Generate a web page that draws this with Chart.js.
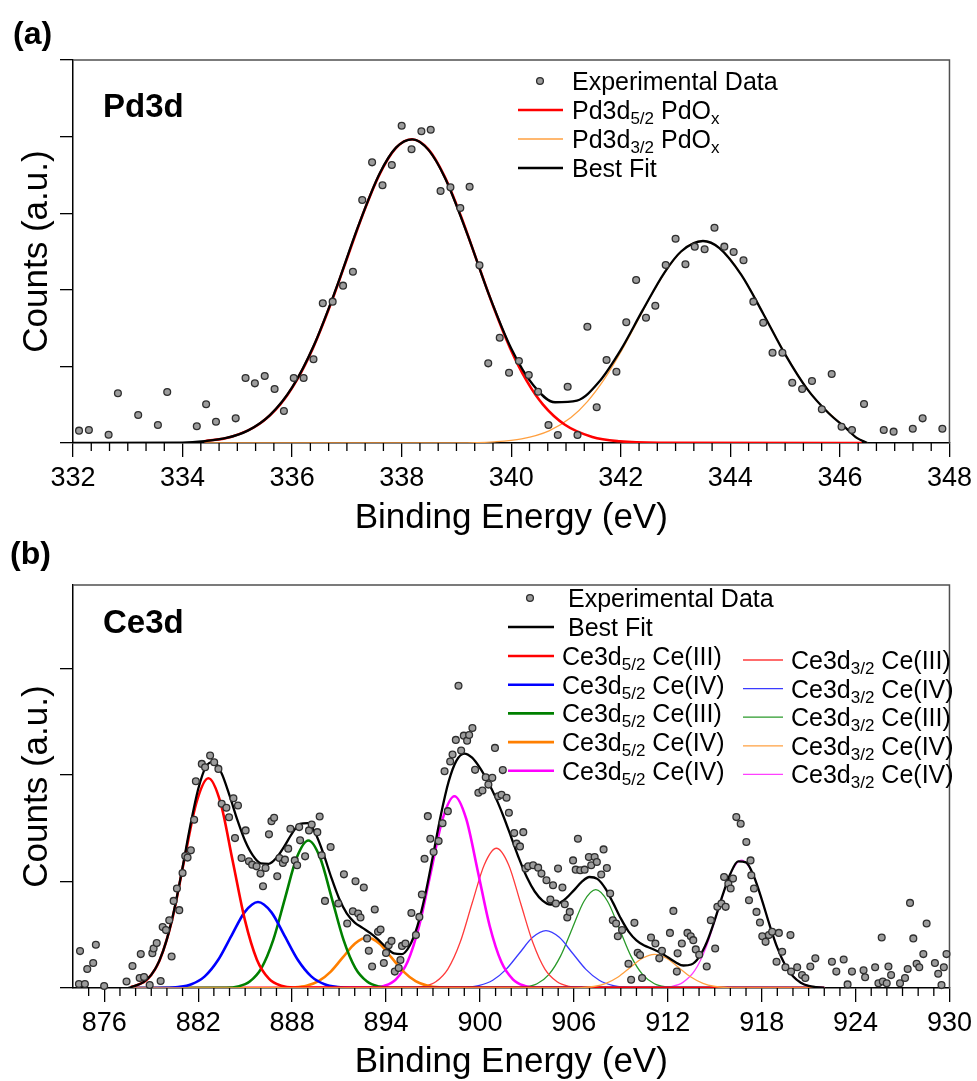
<!DOCTYPE html>
<html>
<head>
<meta charset="utf-8">
<script src="https://cdn.jsdelivr.net/npm/chart.js@4.4.1/dist/chart.umd.min.js"></script>
<style>
  body { margin: 0; background: #fff; }
  #wrap { position: relative; width: 977px; height: 1081px; }
  canvas { position: absolute; left: 0; }
  #pdChart { top: 0; }
  #ceChart { top: 540px; }
</style>
</head>
<body>
<div id="wrap">
  <canvas id="pdChart" width="977" height="540"></canvas>
  <canvas id="ceChart" width="977" height="541"></canvas>
</div>
<script>
// ---------- (a) Pd3d ----------
const pdTag = "(a)";
const pdName = "Pd3d";
const pdXTicks = [332, 334, 336, 338, 340, 342, 344, 346, 348];
const pdYTicks = [0, 1, 2, 3, 4, 5];

const pdEnergy = [
  332.11, 332.29, 332.65, 332.82, 333.19, 333.55, 333.72, 334.26, 334.43, 334.61,
  334.97, 335.15, 335.32, 335.50, 335.68, 335.85, 336.03, 336.21, 336.39, 336.56,
  336.74, 336.93, 337.11, 337.28, 337.46, 337.65, 337.82, 338.00, 338.18, 338.36,
  338.53, 338.71, 338.89, 339.07, 339.24, 339.42, 339.58, 339.79, 339.96, 340.14,
  340.32, 340.49, 340.68, 340.85, 341.03, 341.21, 341.39, 341.56, 341.74, 341.92,
  342.10, 342.28, 342.46, 342.63, 342.82, 343.00, 343.18, 343.35, 343.53, 343.71,
  343.89, 344.06, 344.24, 344.42, 344.60, 344.77, 344.95, 345.13, 345.31, 345.49,
  345.67, 345.85, 346.03, 346.22, 346.44, 346.80, 346.98, 347.33, 347.51, 347.87
];
const pdCounts = [
  0.161, 0.170, 0.108, 0.649, 0.366, 0.235, 0.666, 0.218, 0.505, 0.278,
  0.322, 0.849, 0.779, 0.875, 0.705, 0.418, 0.849, 0.849, 1.093, 1.824,
  1.845, 2.054, 2.236, 3.172, 3.664, 3.364, 3.629, 4.142, 3.834, 4.069,
  4.090, 3.290, 3.338, 3.068, 3.346, 2.320, 1.040, 1.375, 0.918, 1.070,
  0.888, 0.670, 0.235, 0.104, 0.735, 0.104, 1.518, 0.466, 1.084, 0.931,
  1.576, 2.128, 1.636, 1.792, 2.324, 2.667, 2.333, 2.563, 2.529, 2.811,
  2.563, 2.493, 2.385, 1.845, 1.570, 1.179, 1.179, 0.787, 0.705, 0.809,
  0.440, 0.901, 0.213, 0.170, 0.509, 0.170, 0.148, 0.187, 0.322, 0.187
];

const pdFitE = [332.0, 334.0, 334.4, 334.8, 335.2, 335.6, 336.0, 336.4, 336.8, 337.2,
  337.6, 337.9, 338.2, 338.5, 338.8, 339.2, 339.6, 340.0, 340.4, 340.8,
  341.2, 341.6, 342.0, 342.4, 342.8, 343.1, 343.5, 343.8, 344.2, 344.6,
  345.0, 345.4, 345.8, 346.1, 346.3, 346.5];
const pdFit = [0, 0.005, 0.024, 0.066, 0.165, 0.367, 0.725, 1.279, 2.011, 2.818,
  3.521, 3.859, 3.965, 3.817, 3.446, 2.723, 1.924, 1.233, 0.756, 0.532,
  0.553, 0.795, 1.216, 1.734, 2.228, 2.500, 2.637, 2.545, 2.195, 1.688,
  1.157, 0.707, 0.385, 0.2, 0.07, 0];

const pd52E = [334.4, 334.88, 335.38, 335.78, 336.08, 336.38, 336.68, 336.98, 337.28, 337.58,
  337.88, 338.18, 338.48, 338.78, 339.08, 339.38, 339.68, 339.98, 340.28, 340.58,
  340.98, 341.48, 341.98, 342.68, 346.4];
const pd52 = [0.024, 0.079, 0.238, 0.501, 0.814, 1.239, 1.768, 2.364, 2.964, 3.484,
  3.839, 3.965, 3.839, 3.484, 2.964, 2.364, 1.768, 1.239, 0.814, 0.501,
  0.238, 0.079, 0.022, 0.003, 0];

const pd32E = [334.4, 338.99, 339.69, 340.19, 340.69, 341.09, 341.39, 341.69, 341.99, 342.29,
  342.59, 342.89, 343.19, 343.49, 343.79, 344.09, 344.39, 344.69, 344.99, 345.29,
  345.59, 345.89, 346.1, 346.3, 346.5];
const pd32 = [0, 0.002, 0.015, 0.053, 0.158, 0.333, 0.541, 0.824, 1.176, 1.572,
  1.971, 2.317, 2.553, 2.637, 2.553, 2.317, 1.971, 1.572, 1.176, 0.824,
  0.541, 0.333, 0.2, 0.07, 0];

const pdLabels = ["Experimental Data", "Best Fit", "Pd3d_{5/2} PdO_{x}", "Pd3d_{3/2} PdO_{x}"];

// ---------- (b) Ce3d ----------
const ceTag = "(b)";
const ceName = "Ce3d";
const ceXTicks = [876, 882, 888, 894, 900, 906, 912, 918, 924, 930];
const ceYTicks = [0, 1, 2, 3];

const ceEnergy = [
  874.38, 874.45, 874.76, 874.91, 875.29, 875.46, 875.99, 877.42, 877.80, 878.26,
  878.33, 878.54, 878.90, 879.07, 879.15, 879.35, 879.60, 879.73, 879.94, 880.15,
  880.30, 880.43, 880.64, 880.79, 881.00, 881.17, 881.32, 881.53, 881.74, 881.85,
  882.23, 882.44, 882.76, 883.02, 883.29, 883.50, 883.80, 883.97, 884.25, 884.35,
  884.54, 884.77, 885.03, 885.24, 885.45, 885.73, 885.98, 886.14, 886.30, 886.52,
  886.68, 886.85, 887.05, 887.19, 887.41, 887.54, 887.75, 887.89, 888.17, 888.32,
  888.45, 888.51, 888.83, 889.08, 889.25, 889.61, 889.76, 889.89, 890.10, 890.46,
  890.95, 891.31, 891.52, 891.88, 892.05, 892.22, 892.37, 892.58, 892.79, 892.90,
  893.11, 893.28, 893.49, 893.65, 893.86, 894.00, 894.17, 894.35, 894.56, 894.81,
  894.92, 895.02, 895.24, 895.62, 895.91, 896.13, 896.29, 896.46, 896.67, 896.83,
  897.04, 897.36, 897.61, 897.74, 897.95, 898.10, 898.25, 898.46, 898.63, 898.80,
  898.97, 899.18, 899.31, 899.52, 899.69, 899.90, 900.16, 900.37, 900.54, 900.79,
  900.96, 901.17, 901.38, 901.46, 901.70, 901.85, 902.19, 902.34, 902.56, 902.77,
  902.91, 903.08, 903.40, 903.72, 903.93, 904.25, 904.50, 904.67, 904.85, 904.99,
  905.27, 905.42, 905.58, 905.74, 905.95, 906.12, 906.26, 906.41, 906.69, 906.96,
  907.11, 907.33, 907.47, 907.75, 907.90, 908.11, 908.32, 908.49, 908.70, 908.81,
  909.08, 909.49, 909.66, 909.87, 910.08, 910.23, 910.36, 910.93, 911.21, 911.46,
  911.63, 912.14, 912.36, 912.58, 912.63, 912.90, 913.26, 913.47, 913.63, 913.79,
  914.01, 914.49, 914.75, 915.03, 915.17, 915.43, 915.60, 915.70, 915.87, 916.02,
  916.17, 916.38, 916.66, 917.02, 917.19, 917.29, 917.34, 917.51, 917.67, 917.89,
  918.04, 918.25, 918.46, 918.67, 918.95, 919.10, 919.31, 919.52, 919.84, 919.88,
  920.27, 920.58, 920.79, 921.11, 921.43, 922.49, 922.77, 923.24, 923.49, 923.77,
  924.51, 924.61, 925.25, 925.46, 925.67, 925.74, 925.99, 926.10, 926.27, 926.84,
  927.16, 927.33, 927.48, 927.69, 927.90, 928.07, 928.33, 928.54, 929.07, 929.28,
  929.49, 929.64, 929.81
];
const ceCounts = [
  0.037, 0.346, 0.037, 0.178, 0.234, 0.405, 0.019, 0.061, 0.206, 0.094,
  0.318, 0.103, 0.028, 0.327, 0.371, 0.421, 0.065, 0.571, 0.543, 0.636,
  0.295, 0.817, 0.933, 0.730, 1.079, 1.238, 1.223, 1.291, 1.578, 1.939,
  2.102, 2.070, 2.180, 2.117, 2.055, 1.728, 1.690, 1.602, 1.780, 1.406,
  1.712, 1.219, 1.478, 1.188, 1.157, 1.141, 1.073, 0.954, 1.125, 1.441,
  1.565, 1.597, 1.048, 1.219, 1.172, 1.204, 1.307, 1.494, 1.197, 1.151,
  1.509, 1.385, 1.235, 1.478, 1.534, 1.462, 1.609, 1.244, 0.817, 1.322,
  0.792, 1.066, 0.605, 0.720, 1.001, 0.699, 0.661, 0.942, 0.465, 0.349,
  0.201, 0.736, 0.527, 0.549, 0.235, 0.328, 0.402, 0.442, 0.154, 0.188,
  0.262, 0.395, 0.418, 0.704, 0.496, 0.667, 0.877, 1.213, 1.612, 1.400,
  1.275, 1.378, 1.546, 2.033, 1.659, 2.124, 2.189, 2.327, 2.835, 2.227,
  2.367, 2.320, 2.373, 2.439, 2.046, 1.831, 1.852, 1.977, 1.908, 1.971,
  2.252, 1.799, 1.812, 2.044, 1.784, 1.644, 1.453, 1.354, 1.328, 1.462,
  1.120, 1.141, 1.151, 1.129, 1.073, 1.010, 0.830, 0.964, 0.792, 1.120,
  0.942, 0.786, 0.661, 0.714, 1.197, 1.110, 1.400, 1.104, 1.110, 1.228,
  1.151, 1.228, 1.182, 1.064, 1.300, 1.125, 0.886, 0.636, 0.605, 0.486,
  0.543, 0.228, 0.077, 0.611, 0.330, 0.309, 0.094, 0.474, 0.418, 0.278,
  0.349, 0.517, 0.723, 0.154, 0.325, 0.418, 0.517, 0.486, 0.449, 0.362,
  0.312, 0.201, 0.636, 0.371, 0.761, 0.792, 1.041, 0.761, 0.979, 0.933,
  1.026, 1.603, 1.541, 1.369, 0.823, 1.197, 1.057, 0.933, 0.714, 0.615,
  0.486, 0.433, 0.496, 0.527, 0.246, 0.517, 0.340, 0.195, 0.496, 0.154,
  0.195, 0.121, 0.094, 0.201, 0.278, 0.246, 0.154, 0.268, 0.034, 0.154,
  0.167, 0.101, 0.195, 0.044, 0.474, 0.061, 0.044, 0.201, 0.121, 0.044,
  0.094, 0.178, 0.798, 0.465, 0.228, 0.195, 0.318, 0.605, 0.235, 0.134,
  0.027, 0.195, 0.318
];

const ceFitE = [
  877.5, 878.0, 878.5, 879.0, 879.5, 880.0, 880.5, 881.0, 881.5, 882.0,
  882.5, 883.0, 883.5, 884.0, 884.5, 885.0, 885.5, 886.0, 886.5, 887.0,
  887.5, 888.0, 888.5, 889.0, 889.5, 890.0, 890.5, 891.0, 891.5, 892.0,
  892.5, 893.0, 893.5, 894.0, 894.5, 895.0, 895.5, 896.0, 896.5, 897.0,
  897.5, 898.0, 898.5, 899.0, 899.5, 900.0, 900.5, 901.0, 901.5, 902.0,
  902.5, 903.0, 903.5, 904.0, 904.5, 905.0, 905.5, 906.0, 906.5, 907.0,
  907.5, 908.0, 908.5, 909.0, 909.5, 910.0, 910.5, 911.0, 911.5, 912.0,
  912.5, 913.0, 913.5, 914.0, 914.5, 915.0, 915.5, 916.0, 916.5, 917.0,
  917.5, 918.0, 918.5, 919.0, 919.5, 920.0, 920.5, 921.0, 921.5, 922.0
];
const ceFit = [
  0, 0.022, 0.055, 0.123, 0.250, 0.458, 0.758, 1.131, 1.526, 1.866,
  2.078, 2.121, 2.012, 1.806, 1.576, 1.378, 1.241, 1.169, 1.165, 1.221,
  1.328, 1.451, 1.540, 1.547, 1.446, 1.260, 1.038, 0.840, 0.698, 0.614,
  0.564, 0.515, 0.453, 0.381, 0.324, 0.317, 0.394, 0.578, 0.872, 1.241,
  1.621, 1.936, 2.133, 2.199, 2.160, 2.064, 1.937, 1.788, 1.611, 1.413,
  1.213, 1.038, 0.905, 0.820, 0.783, 0.791, 0.840, 0.916, 0.995, 1.041,
  1.024, 0.937, 0.801, 0.653, 0.529, 0.447, 0.398, 0.368, 0.333, 0.289,
  0.242, 0.211, 0.220, 0.290, 0.432, 0.636, 0.868, 1.071, 1.188, 1.179,
  1.048, 0.834, 0.594, 0.378, 0.216, 0.110, 0.050, 0.020, 0.008, 0
];

// Ce3d5/2 components
const ceR5E = [877.7, 878.0, 878.78, 879.55, 880.33, 881.1, 881.88, 882.65, 883.43, 884.2, 884.98, 885.75, 886.53, 887.3, 888.08, 922];
const ceR5 = [0.01, 0.022, 0.086, 0.266, 0.639, 1.193, 1.736, 1.967, 1.736, 1.193, 0.639, 0.266, 0.086, 0.022, 0.004, 0];
const ceB5E = [877.7, 879.87, 880.72, 881.57, 882.42, 883.27, 884.12, 884.97, 885.82, 886.67, 887.52, 888.37, 889.22, 890.07, 890.92, 891.77, 922];
const ceB5 = [0, 0.002, 0.009, 0.035, 0.109, 0.262, 0.489, 0.712, 0.807, 0.712, 0.489, 0.262, 0.109, 0.035, 0.009, 0.002, 0];
const ceG5E = [877.7, 883.79, 884.54, 885.29, 886.04, 886.79, 887.54, 888.29, 889.04, 889.79, 890.54, 891.29, 892.04, 892.79, 893.54, 894.29, 922];
const ceG5 = [0, 0.003, 0.015, 0.061, 0.187, 0.449, 0.839, 1.221, 1.383, 1.221, 0.839, 0.449, 0.187, 0.061, 0.015, 0.003, 0];
const ceO5E = [877.7, 887.37, 888.14, 888.92, 889.69, 890.47, 891.24, 892.02, 892.79, 893.57, 894.34, 895.12, 895.89, 896.67, 897.44, 898.22, 922];
const ceO5 = [0, 0.001, 0.005, 0.021, 0.064, 0.154, 0.287, 0.418, 0.474, 0.418, 0.287, 0.154, 0.064, 0.021, 0.005, 0.001, 0];
const ceM5E = [877.7, 893.12, 893.87, 894.62, 895.37, 896.12, 896.87, 897.62, 898.37, 899.12, 899.87, 900.62, 901.37, 902.12, 902.87, 903.62, 922];
const ceM5 = [0, 0.004, 0.020, 0.079, 0.243, 0.584, 1.091, 1.588, 1.799, 1.588, 1.091, 0.584, 0.243, 0.079, 0.020, 0.004, 0];

// Ce3d3/2 components
const ceR3E = [877.7, 895.63, 896.4, 897.18, 897.95, 898.73, 899.5, 900.28, 901.05, 901.83, 902.6, 903.38, 904.15, 904.93, 905.7, 906.48, 922];
const ceR3 = [0, 0.003, 0.015, 0.058, 0.177, 0.426, 0.795, 1.157, 1.311, 1.157, 0.795, 0.426, 0.177, 0.058, 0.015, 0.003, 0];
const ceB3E = [877.7, 898.27, 899.12, 899.97, 900.82, 901.67, 902.52, 903.37, 904.22, 905.07, 905.92, 906.77, 907.62, 908.47, 909.32, 910.17, 922];
const ceB3 = [0, 0.001, 0.006, 0.024, 0.073, 0.175, 0.326, 0.475, 0.538, 0.475, 0.326, 0.175, 0.073, 0.024, 0.006, 0.001, 0];
const ceG3E = [877.7, 902.15, 902.9, 903.65, 904.4, 905.15, 905.9, 906.65, 907.4, 908.15, 908.9, 909.65, 910.4, 911.15, 911.9, 912.65, 922];
const ceG3 = [0, 0.002, 0.010, 0.040, 0.125, 0.299, 0.559, 0.814, 0.922, 0.814, 0.559, 0.299, 0.125, 0.040, 0.010, 0.002, 0];
const ceO3E = [877.7, 905.73, 906.5, 907.28, 908.05, 908.83, 909.6, 910.38, 911.15, 911.93, 912.7, 913.48, 914.25, 915.03, 915.8, 916.58, 922];
const ceO3 = [0, 0.001, 0.004, 0.014, 0.043, 0.103, 0.192, 0.279, 0.316, 0.279, 0.192, 0.103, 0.043, 0.014, 0.004, 0.001, 0];
const ceM3E = [877.7, 911.47, 912.22, 912.97, 913.72, 914.47, 915.22, 915.97, 916.72, 917.47, 918.22, 918.97, 919.72, 920.47, 921.22, 921.97, 922];
const ceM3 = [0, 0.003, 0.013, 0.053, 0.162, 0.390, 0.728, 1.059, 1.200, 1.059, 0.728, 0.390, 0.162, 0.053, 0.013, 0.003, 0];

const ceLabels = ["Experimental Data", "Best Fit",
  "Ce3d_{5/2} Ce(III)", "Ce3d_{5/2} Ce(IV)", "Ce3d_{5/2} Ce(III)", "Ce3d_{5/2} Ce(IV)", "Ce3d_{5/2} Ce(IV)",
  "Ce3d_{3/2} Ce(III)", "Ce3d_{3/2} Ce(IV)", "Ce3d_{3/2} Ce(III)", "Ce3d_{3/2} Ce(IV)", "Ce3d_{3/2} Ce(IV)"];

const xTitle = "Binding Energy (eV)";
const yTitle = "Counts (a.u.)";

// ---------- drawing ----------
const FONT = '"Liberation Sans", Arial, Helvetica, sans-serif';
Chart.defaults.font.family = FONT;
Chart.defaults.color = "#000";

function toXY(xs, ys) {
  return xs.map((x, i) => ({ x, y: ys[i] }));
}

function dots(label, xs, ys) {
  return {
    label, data: toXY(xs, ys), showLine: false, clip: false,
    pointRadius: 3.4, pointBorderWidth: 1.3,
    pointBackgroundColor: "#9c9c9c", pointBorderColor: "#2e2e2e",
  };
}

function curve(label, xs, ys, color, width, order) {
  return {
    label, data: toXY(xs, ys), borderColor: color, borderWidth: width,
    pointRadius: 0, fill: false, cubicInterpolationMode: "monotone", order: order || 0,
  };
}

// label text with _{...} subscripts
function richText(ctx, text, x, y) {
  const parts = text.split(/_\{([^}]*)\}/);
  const base = y + 9;
  parts.forEach((p, i) => {
    const sub = i % 2 === 1;
    ctx.font = (sub ? "17px " : "25px ") + FONT;
    ctx.fillText(p, x, sub ? base + 5 : base);
    x += ctx.measureText(p).width;
  });
}

function minorValues(min, max, step, majors) {
  const vals = [];
  const n = Math.round((max - min) / step);
  for (let i = 1; i < n; i++) {
    const v = min + i * step;
    if (!majors.some((m) => Math.abs(m - v) < 1e-6)) vals.push(v);
  }
  return vals;
}

const panelDecor = {
  id: "panelDecor",
  beforeDatasetsDraw(chart, args, opts) {
    const { ctx, chartArea: a } = chart;
    const xs = chart.scales.x;
    ctx.save();
    // top / right frame
    ctx.strokeStyle = "#505050";
    ctx.lineWidth = 1.5;
    ctx.beginPath();
    ctx.moveTo(a.left, a.top);
    ctx.lineTo(a.right, a.top);
    ctx.lineTo(a.right, a.bottom);
    ctx.stroke();
    // minor ticks
    ctx.strokeStyle = "#000";
    ctx.lineWidth = 1.3;
    ctx.beginPath();
    opts.minor.forEach((v) => {
      const px = xs.getPixelForValue(v);
      ctx.moveTo(px, a.bottom);
      ctx.lineTo(px, a.bottom + 8);
    });
    ctx.stroke();
    ctx.restore();
  },
  afterDatasetsDraw(chart, args, opts) {
    const ctx = chart.ctx;
    ctx.save();
    ctx.textAlign = "left";
    ctx.textBaseline = "alphabetic";
    opts.legend.forEach((it) => {
      const ds = chart.data.datasets[it.ds];
      if (ds.showLine === false) {
        ctx.fillStyle = ds.pointBackgroundColor;
        ctx.strokeStyle = ds.pointBorderColor;
        Chart.helpers.drawPoint(ctx, { pointStyle: "circle", radius: ds.pointRadius, borderWidth: ds.pointBorderWidth }, it.mx, it.y);
      } else {
        ctx.strokeStyle = ds.borderColor;
        ctx.lineWidth = ds.borderWidth;
        ctx.beginPath();
        ctx.moveTo(it.x0, it.y);
        ctx.lineTo(it.x1, it.y);
        ctx.stroke();
      }
      ctx.fillStyle = "#000";
      richText(ctx, ds.label, it.tx, it.y);
    });
    ctx.fillStyle = "#000";
    ctx.font = "bold 32px " + FONT;
    ctx.fillText(opts.tag, opts.tagX, opts.tagY);
    ctx.font = "bold 33px " + FONT;
    ctx.fillText(opts.name, 103, opts.nameY);
    ctx.restore();
  },
};

function axes(xMin, xMax, xTicks, yMax, yTicks, xHeight, titlePad) {
  return {
    x: {
      type: "linear", min: xMin, max: xMax,
      afterBuildTicks: (s) => { s.ticks = xTicks.map((v) => ({ value: v })); },
      afterFit: (s) => { s.height = xHeight; },
      grid: { drawOnChartArea: false, color: "#000", lineWidth: 1.3, tickLength: 14 },
      border: { color: "#000", width: 1.5 },
      ticks: { font: { size: 27 }, padding: 5, maxRotation: 0, autoSkip: false },
      title: { display: true, text: xTitle, font: { size: 35, lineHeight: 1 }, padding: { top: 0, bottom: titlePad } },
    },
    y: {
      type: "linear", min: 0, max: yMax,
      afterBuildTicks: (s) => { s.ticks = yTicks.map((v) => ({ value: v })); },
      afterFit: (s) => { s.width = 73; },
      grid: { drawOnChartArea: false, color: "#000", lineWidth: 1.3, tickLength: 13 },
      border: { color: "#000", width: 1.5 },
      ticks: { display: false },
      title: { display: true, text: yTitle, font: { size: 35, lineHeight: 1 }, padding: { top: 19.5, bottom: 0 } },
    },
  };
}

function baseOptions(padding, scales, decor) {
  return {
    responsive: false,
    animation: false,
    events: [],
    layout: { padding, autoPadding: false },
    scales,
    plugins: { legend: { display: false }, tooltip: { enabled: false }, panelDecor: decor },
  };
}

// (a)
new Chart(document.getElementById("pdChart"), {
  type: "line",
  data: {
    datasets: [
      dots(pdLabels[0], pdEnergy, pdCounts),
      curve(pdLabels[1], pdFitE, pdFit, "#000000", 2.3),
      curve(pdLabels[2], pd52E, pd52, "#ff0000", 2.6),
      curve(pdLabels[3], pd32E, pd32, "#ffa040", 1.3),
    ],
  },
  options: baseOptions(
    { top: 60, right: 26, left: 0, bottom: 0 },
    axes(332, 348, pdXTicks, 5, pdYTicks, 97, 4.5),
    {
      minor: minorValues(332, 348, 1 / 3, pdXTicks),
      tag: pdTag, tagX: 13, tagY: 44, name: pdName, nameY: 117,
      legend: [
        { ds: 0, y: 81, mx: 540, tx: 572 },
        { ds: 2, y: 110, x0: 518, x1: 563, tx: 572 },
        { ds: 3, y: 139, x0: 518, x1: 563, tx: 572 },
        { ds: 1, y: 168, x0: 518, x1: 563, tx: 572 },
      ],
    }
  ),
  plugins: [panelDecor],
});

// (b)
const ceLeftRows = [116, 144.7, 173.4, 202.1, 230.8];
const ceRightRows = [120, 148.6, 177.2, 205.8, 234.4];
new Chart(document.getElementById("ceChart"), {
  type: "line",
  data: {
    datasets: [
      dots(ceLabels[0], ceEnergy, ceCounts),
      curve(ceLabels[1], ceFitE, ceFit, "#000000", 2.3),
      curve(ceLabels[2], ceR5E, ceR5, "#ff0000", 2.6, 2),
      curve(ceLabels[3], ceB5E, ceB5, "#0000ff", 2.6, 2),
      curve(ceLabels[4], ceG5E, ceG5, "#008000", 2.6, 2),
      curve(ceLabels[5], ceO5E, ceO5, "#ff7f00", 2.6, 2),
      curve(ceLabels[6], ceM5E, ceM5, "#ff00ff", 2.6, 2),
      curve(ceLabels[7], ceR3E, ceR3, "#ff3b3b", 1.3, 2),
      curve(ceLabels[8], ceB3E, ceB3, "#3b3bff", 1.3, 2),
      curve(ceLabels[9], ceG3E, ceG3, "#2a9a2a", 1.3, 2),
      curve(ceLabels[10], ceO3E, ceO3, "#ffa040", 1.3, 1),
      curve(ceLabels[11], ceM3E, ceM3, "#ff40ff", 1.3, 2),
    ],
  },
  options: baseOptions(
    { top: 45, right: 23, left: 0, bottom: 0 },
    axes(874, 930, ceXTicks, 3.78, ceYTicks, 93, 1.5),
    {
      minor: minorValues(874, 930, 1, ceXTicks),
      tag: ceTag, tagX: 10, tagY: 24, name: ceName, nameY: 93,
      legend: [
        { ds: 0, y: 58, mx: 530, tx: 568 },
        { ds: 1, y: 87, x0: 508, x1: 554, tx: 568 },
      ]
        .concat(ceLeftRows.map((y, i) => ({ ds: 2 + i, y, x0: 508, x1: 554, tx: 562 })))
        .concat(ceRightRows.map((y, i) => ({ ds: 7 + i, y, x0: 743, x1: 783, tx: 791 }))),
    }
  ),
  plugins: [panelDecor],
});
</script>
</body>
</html>
